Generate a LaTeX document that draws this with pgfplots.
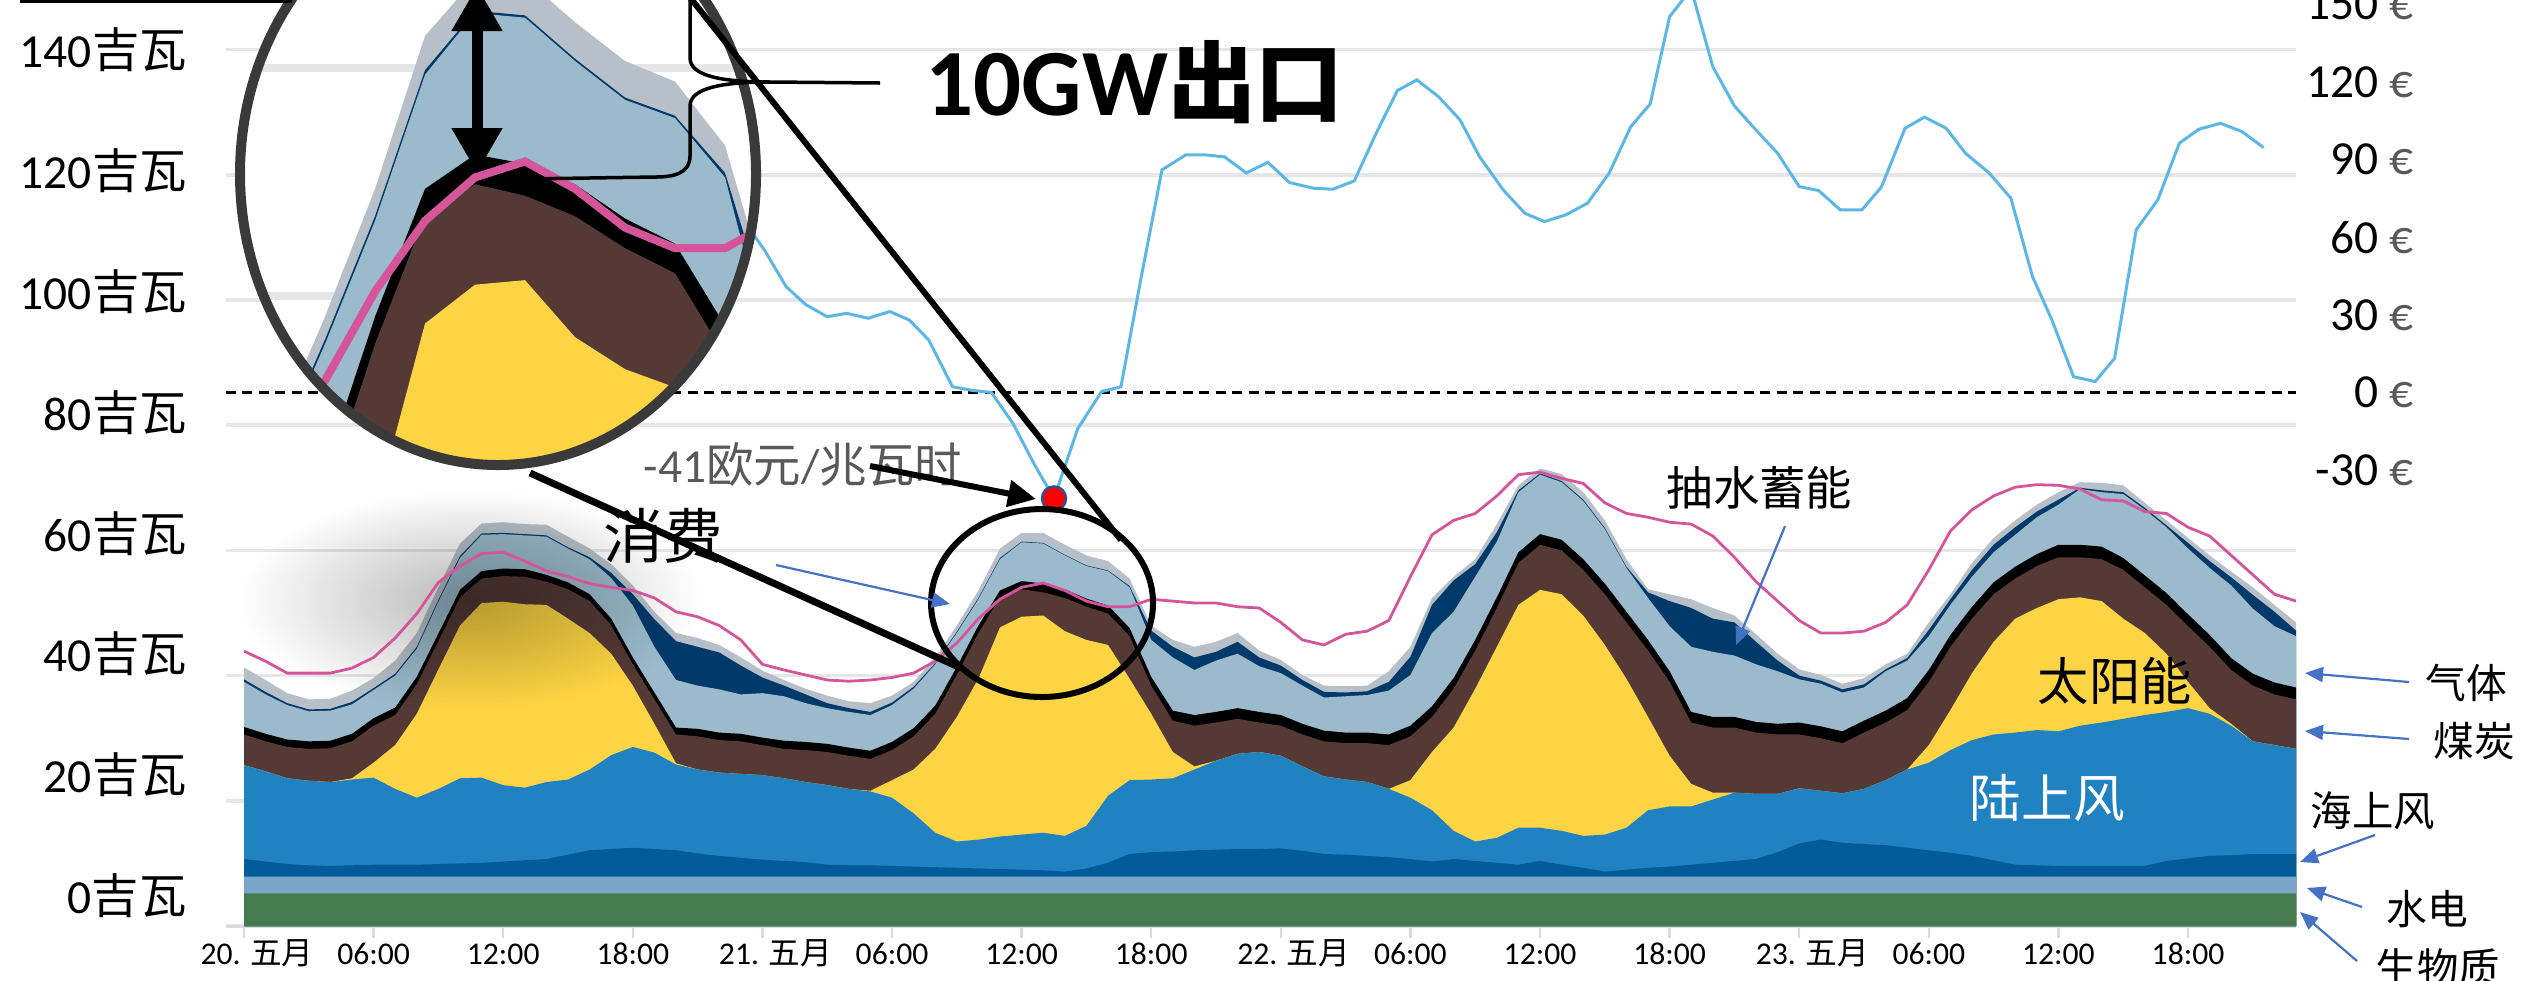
\documentclass[border=0pt]{standalone}
\usepackage{fontspec}
\setmainfont{Carlito}
\newfontfamily\cjk{Noto Sans CJK SC}
\usepackage{pgfplots}
\pgfplotsset{compat=1.18}
\usepackage{pgfplotstable}
\usetikzlibrary{arrows.meta,fadings}

\definecolor{cBio}{HTML}{477A4E}
\definecolor{cHyd}{HTML}{7AA6CA}
\definecolor{cOff}{HTML}{005C98}
\definecolor{cOn}{HTML}{2182C2}
\definecolor{cSol}{HTML}{FDD544}
\definecolor{cCoal}{HTML}{543935}
\definecolor{cGas}{HTML}{9BBBCC}
\definecolor{cPump}{HTML}{003A6B}
\definecolor{cOth}{HTML}{B7C0C8}
\definecolor{cCons}{HTML}{D5559B}
\definecolor{cPrice}{HTML}{5DB7E6}
\definecolor{cArrow}{HTML}{4472C4}
\definecolor{cGrid}{HTML}{E6E6E6}
\definecolor{cAxis}{HTML}{D6DCE6}
\definecolor{cTxt}{HTML}{595959}
\definecolor{cRing}{HTML}{3A3A3A}
\definecolor{cDot}{HTML}{2F4F8F}

\newcommand\fs[1]{\fontsize{#1}{#1}\selectfont}
\newcommand\wy{{\cjk 五月}}
\tikzfading[name=glow, inner color=transparent!72, outer color=transparent!100]

\pgfplotstableread{
h bio hyd ofw onw sol coal blk gas pump tot cons
0 5.2 7.9 10.7 25.7 25.7 30.6 31.8 39.0 39.4 41.3 43.9
1 5.2 7.9 10.3 24.7 24.7 29.5 30.7 37.0 37.4 39.3 42.3
2 5.2 7.9 9.9 23.6 23.6 28.6 29.8 35.3 35.6 37.2 40.4
3 5.2 7.9 9.7 23.2 23.2 28.3 29.5 34.3 34.6 36.2 40.4
4 5.2 7.9 9.6 23.0 23.0 28.4 29.6 34.4 34.7 36.3 40.4
5 5.2 7.9 9.7 23.4 23.6 29.5 30.7 35.4 35.8 37.6 41.2
6 5.2 7.9 9.8 23.7 26.1 32.0 33.2 37.7 38.0 39.6 42.9
7 5.2 7.9 9.8 21.9 28.9 33.7 34.9 40.0 40.3 42.4 46.0
8 5.2 7.9 9.8 20.5 33.9 38.6 39.8 44.3 44.6 46.8 49.9
9 5.2 7.9 9.9 21.9 41.0 45.5 46.7 51.8 52.1 54.1 54.9
10 5.2 7.9 10.0 23.6 48.0 52.5 53.7 58.8 59.1 61.1 57.5
11 5.2 7.9 10.1 23.7 51.6 55.5 56.7 62.5 62.7 64.3 59.5
12 5.2 7.9 10.3 22.5 51.8 55.9 57.1 62.6 62.8 64.5 59.7
13 5.2 7.9 10.5 22.1 51.4 55.8 57.0 62.4 62.6 64.2 58.3
14 5.2 7.9 10.7 23.0 51.3 55.0 56.1 62.2 62.4 64.1 56.7
15 5.2 7.9 11.4 23.4 49.1 53.8 54.9 60.3 60.5 62.2 55.8
16 5.2 7.9 12.1 25.0 46.8 51.9 53.0 58.6 58.9 60.3 54.7
17 5.2 7.9 12.3 27.3 43.5 48.0 49.1 55.6 56.4 57.8 54.1
18 5.2 7.9 12.5 28.6 38.4 41.8 42.9 51.2 53.0 54.4 53.6
19 5.2 7.9 12.3 27.7 32.3 36.2 37.3 44.6 49.0 50.2 52.4
20 5.2 7.9 12.1 25.8 26.0 30.6 31.7 39.3 45.5 46.8 50.2
21 5.2 7.9 11.6 25.0 25.0 30.3 31.5 38.4 44.6 46.0 49.4
22 5.2 7.9 11.2 24.5 24.5 29.7 30.9 37.8 43.7 44.9 48.0
23 5.2 7.9 10.9 24.3 24.3 29.5 30.7 37.0 41.6 42.9 45.7
24 5.2 7.9 10.6 24.1 24.1 28.9 30.1 37.2 39.7 40.8 41.8
25 5.2 7.9 10.4 23.6 23.6 28.3 29.6 36.7 38.4 39.3 40.9
26 5.2 7.9 10.2 23.0 23.0 28.1 29.4 35.6 37.0 37.9 40.1
27 5.2 7.9 9.8 22.5 22.5 27.8 29.1 34.8 35.6 36.8 39.3
28 5.2 7.9 9.7 21.9 21.9 27.2 28.5 34.2 34.8 35.9 39.1
29 5.2 7.9 9.7 21.5 21.6 26.7 28.0 33.7 34.2 35.6 39.3
30 5.2 7.9 9.6 20.5 23.3 28.1 29.4 35.3 35.7 36.8 39.7
31 5.2 7.9 9.5 18.0 25.0 30.3 31.6 37.9 38.2 39.0 40.4
32 5.2 7.9 9.4 14.9 28.3 33.9 35.2 41.8 42.0 42.9 42.3
33 5.2 7.9 9.3 13.5 33.4 40.1 41.4 46.8 47.0 48.0 45.2
34 5.2 7.9 9.2 13.8 39.5 46.8 48.0 52.2 52.4 53.6 49.1
35 5.2 7.9 9.1 14.3 47.7 52.4 53.6 58.6 58.8 60.3 52.2
36 5.2 7.9 9.0 14.6 49.4 53.8 55.1 61.3 61.4 62.8 54.1
37 5.2 7.9 8.9 14.9 49.6 53.3 54.7 61.1 61.2 62.8 54.8
38 5.2 7.9 8.7 14.4 47.1 52.4 53.8 59.2 59.3 60.9 53.6
39 5.2 7.9 9.2 16.0 45.7 51.0 52.3 57.5 57.6 59.2 51.9
40 5.2 7.9 10.1 20.8 44.9 49.9 51.2 56.7 56.8 58.3 51.0
41 5.2 7.9 11.5 23.3 39.5 46.3 47.6 54.1 54.3 55.5 51.0
42 5.2 7.9 11.8 23.4 33.9 38.4 39.8 45.7 47.2 48.0 52.2
43 5.2 7.9 11.9 23.6 27.8 32.8 34.4 42.9 44.6 45.7 51.9
44 5.2 7.9 12.1 25.0 25.5 32.0 33.7 40.9 42.9 44.6 51.6
45 5.2 7.9 12.2 26.4 26.4 32.5 34.2 42.4 43.8 45.4 51.6
46 5.2 7.9 12.3 27.5 27.5 33.1 34.8 43.5 45.4 46.8 51.0
47 5.2 7.9 12.3 27.8 27.8 32.5 34.2 41.5 42.9 44.0 50.8
48 5.2 7.9 12.4 27.2 27.2 32.0 33.7 40.4 41.6 42.5 48.5
49 5.2 7.9 12.0 25.5 25.5 30.6 32.3 38.4 39.3 40.1 45.7
50 5.2 7.9 11.5 23.9 23.9 29.5 31.2 36.5 37.4 38.4 44.9
51 5.2 7.9 11.4 23.4 23.4 29.2 30.9 36.7 37.3 38.3 46.6
52 5.2 7.9 11.2 23.0 23.0 29.2 30.9 36.9 37.5 38.4 47.1
53 5.2 7.9 11.0 21.9 21.9 28.9 30.6 37.6 39.0 40.7 48.8
54 5.2 7.9 10.7 20.5 23.3 30.3 32.0 40.1 43.0 44.6 55.8
55 5.2 7.9 10.3 18.5 27.8 33.4 35.1 46.8 51.3 52.4 62.5
56 5.2 7.9 10.7 15.2 31.7 37.9 39.6 50.2 55.2 55.8 64.8
57 5.2 7.9 10.4 13.5 37.9 44.0 45.7 55.8 57.8 58.6 65.9
58 5.2 7.9 10.1 14.1 44.6 50.8 52.5 61.4 62.9 64.2 68.7
59 5.2 7.9 9.8 15.7 51.3 58.0 59.7 69.3 69.6 70.4 72.1
60 5.2 7.9 10.4 15.7 53.7 60.9 62.6 72.1 72.3 73.1 72.5
61 5.2 7.9 9.8 15.2 53.0 60.0 61.7 70.9 71.1 72.2 71.5
62 5.2 7.9 9.3 14.4 49.6 56.9 58.6 67.9 68.1 69.3 70.7
63 5.2 7.9 8.7 14.6 44.9 53.0 54.7 63.4 63.6 64.8 67.6
64 5.2 7.9 9.0 15.7 39.5 48.5 50.2 57.2 57.4 58.6 65.9
65 5.2 7.9 9.3 18.5 33.4 44.0 45.7 52.4 53.3 53.8 65.3
66 5.2 7.9 9.5 19.1 27.2 39.0 40.7 47.9 51.9 53.0 64.5
67 5.2 7.9 9.8 19.1 22.7 32.5 34.2 44.6 50.8 52.2 64.2
68 5.2 7.9 10.1 20.2 21.3 31.7 33.4 43.8 49.1 50.8 62.3
69 5.2 7.9 10.4 21.3 21.3 31.7 33.4 43.2 48.5 49.6 58.9
70 5.2 7.9 10.7 21.1 21.1 30.9 32.6 41.8 45.4 46.6 55.0
71 5.2 7.9 11.8 21.1 21.1 30.6 32.3 40.7 42.4 43.5 51.9
72 5.2 7.9 13.2 22.0 22.0 30.6 32.5 39.4 40.0 41.0 48.8
73 5.2 7.9 13.8 21.6 21.6 30.0 31.9 38.7 39.2 40.1 46.8
74 5.2 7.9 13.3 21.2 21.2 29.2 31.1 37.3 37.8 38.7 46.8
75 5.2 7.9 13.1 21.9 21.9 30.9 32.8 38.1 38.6 39.6 47.1
76 5.2 7.9 12.9 23.3 23.3 32.5 34.4 40.7 41.0 41.8 48.5
77 5.2 7.9 12.5 25.0 25.0 34.5 36.4 42.4 42.8 43.5 51.3
78 5.2 7.9 12.1 26.1 28.9 39.0 40.9 46.3 47.3 48.5 56.9
79 5.2 7.9 11.7 28.1 34.5 44.6 46.5 51.3 52.2 53.0 63.1
80 5.2 7.9 11.2 29.7 40.4 49.1 51.0 55.8 56.9 58.0 66.5
81 5.2 7.9 10.5 30.6 45.4 53.0 54.9 59.7 60.9 62.0 68.7
82 5.2 7.9 9.8 30.9 49.1 55.5 57.4 62.5 63.7 64.8 70.1
83 5.2 7.9 9.7 31.3 50.8 57.5 59.4 65.3 66.2 67.3 70.5
84 5.2 7.9 9.6 31.1 52.2 58.9 60.9 67.3 68.1 69.3 70.4
85 5.2 7.9 9.6 32.0 52.5 58.9 60.9 69.8 70.0 70.9 69.8
86 5.2 7.9 9.6 32.5 51.9 58.6 60.6 69.3 69.6 70.8 68.1
87 5.2 7.9 9.6 33.1 49.1 56.9 58.8 69.0 69.3 70.4 67.9
88 5.2 7.9 9.6 33.7 46.8 54.1 56.0 66.5 66.8 67.6 66.2
89 5.2 7.9 10.4 34.2 43.5 51.3 53.2 63.7 64.0 64.8 65.9
90 5.2 7.9 10.8 34.8 39.0 47.9 49.8 60.3 61.2 62.0 63.7
91 5.2 7.9 11.2 33.9 34.8 44.6 46.5 57.2 58.3 59.2 62.3
92 5.2 7.9 11.3 32.0 32.3 40.9 42.8 54.4 55.7 56.6 59.2
93 5.2 7.9 11.5 29.5 29.5 38.4 40.3 50.7 52.9 54.1 56.1
94 5.2 7.9 11.5 28.9 28.9 37.0 38.9 47.9 50.2 51.3 53.0
95 5.2 7.9 11.5 28.3 28.3 36.2 38.1 46.3 47.2 48.5 51.9
}\gen

\pgfplotstableread{
h p
22.0 75
23.0 68
24.1 55
25.1 40.9
26.0 34.0
27.0 29.3
27.9 30.6
28.9 28.7
29.9 31.3
30.8 28.0
31.7 20.3
32.8 2.2
33.7 0.8
34.6 0.0
35.6 -12
36.6 -28
37.5 -41
38.6 -14
39.7 0.3
40.6 2.2
41.5 43
42.5 86.1
43.6 91.9
44.5 91.9
45.4 91.1
46.4 84.9
47.4 89.0
48.4 81.2
49.5 79.0
50.4 78.6
51.4 81.8
52.4 100
53.4 116.8
54.3 120.9
55.3 114.4
56.3 105.4
57.2 91.2
58.3 78.3
59.3 69.3
60.2 66.1
61.2 68.7
62.2 73.2
63.2 84.8
64.2 102.8
65.1 111.6
66.0 145.4
67.0 156
68.0 126
69.0 110.8
70.0 101.5
71.0 92.5
72.0 79.6
72.9 78.1
73.9 70.6
74.9 70.6
75.8 79.4
76.9 102.2
77.8 106.5
78.8 102.2
79.7 92.5
80.8 84.8
81.8 75.1
82.8 44.8
83.7 28.0
84.7 6.1
85.7 4.2
86.6 13.2
87.6 62.9
88.6 74.5
89.6 96.4
90.5 101.8
91.5 104.1
92.5 100.9
93.5 94.7
}\price

\begin{document}
\begin{tikzpicture}
\path[use as bounding box] (0mm,0mm) rectangle (252.1mm,98mm);
\clip (0mm,0mm) rectangle (252.1mm,98mm);
\pgfplotsset{
  every axis/.append style={/pgf/number format/assume math mode=true},
  base/.style={scale only axis, width=207.04mm, height=92.6mm,
    at={(22.56mm,5.4mm)}, anchor=south west, xmin=-0.852, xmax=95},
}
% ---------- stacked areas ----------
\begin{axis}[base, ymin=0, ymax=147.92,
  axis x line*=bottom, axis y line*=left,
  y axis line style={draw=none}, x axis line style={cAxis, line width=0.3mm},
  xtick={0,6,...,90},
  xticklabels={{\hspace*{2.6mm}20. \wy},06:00,12:00,18:00,{\hspace*{2.6mm}21. \wy},06:00,12:00,18:00,{\hspace*{2.6mm}22. \wy},06:00,12:00,18:00,{\hspace*{2.6mm}23. \wy},06:00,12:00,18:00},
  xtick style={cAxis, line width=0.25mm}, tick align=outside, major tick length=1.2mm,
  xticklabel style={font=\fs{9}, inner sep=0pt, anchor=base, yshift=-2.6mm},
  ytick={0,20,...,140}, ytick style={draw=none},
  yticklabel={\pgfmathprintnumber{\tick}{\cjk 吉瓦}},
  yticklabel style={font=\fs{13.5}, inner sep=0pt, anchor=east, xshift=-2.6mm, yshift={(7-\ticknum)*0.43mm}},
  ymajorgrids, grid style={cGrid, line width=0.35mm},
]
\addplot[fill=cOth, draw=none] table[x=h,y=tot]{\gen} \closedcycle;
\addplot[fill=cPump, draw=none] table[x=h,y=pump]{\gen} \closedcycle;
\addplot[fill=cGas, draw=none] table[x=h,y=gas]{\gen} \closedcycle;
\addplot[fill=black, draw=none] table[x=h,y=blk]{\gen} \closedcycle;
\addplot[fill=cCoal, draw=none] table[x=h,y=coal]{\gen} \closedcycle;
\addplot[fill=cSol, draw=none] table[x=h,y=sol]{\gen} \closedcycle;
\addplot[fill=cOn, draw=none] table[x=h,y=onw]{\gen} \closedcycle;
\addplot[fill=cOff, draw=none] table[x=h,y=ofw]{\gen} \closedcycle;
\addplot[fill=cHyd, draw=none] table[x=h,y=hyd]{\gen} \closedcycle;
\addplot[fill=cBio, draw=none] table[x=h,y=bio]{\gen} \closedcycle;
\end{axis}
% soft shadow
\begin{scope}[x=0.1mm, y=-0.1mm, shift={(0mm,98mm)}]
\fill[black, path fading=glow] (470,600) ellipse [x radius=230, y radius=110];
\end{scope}
% ---------- consumption ----------
\begin{axis}[base, ymin=0, ymax=147.92, hide axis]
\addplot[cCons, line width=0.28mm] table[x=h,y=cons]{\gen};
\end{axis}
% ---------- price ----------
\begin{axis}[base, ymin=-206.4, ymax=151.8, hide x axis, axis y line*=right,
  y axis line style={draw=none}, ytick={-30,0,...,150}, ytick style={draw=none},
  yticklabel={\pgfmathprintnumber{\tick}~\textcolor{cTxt}{€}},
  yticklabel style={font=\fs{13.5}, inner sep=0pt, anchor=east, xshift=11.8mm}]
\addplot[black, line width=0.25mm, dash pattern=on 1mm off 0.65mm] coordinates {(-0.852,0) (95,0)};
\addplot[cPrice, line width=0.3mm] table[x=h,y=p]{\price};
\addplot[only marks, mark=*, mark size=1.2mm, mark options={fill=red, draw=cDot, line width=0.25mm}] coordinates {(37.5,-41)};
\end{axis}
% ---------- magnifier ----------
\begin{scope}
\clip (49.8mm,80.6mm) ellipse [x radius=25.8mm, y radius=29.1mm];
\fill[white] (23mm,50mm) rectangle (77mm,111mm);
\begin{axis}[scale only axis, width=51.6mm, height=58.2mm, at={(24mm,51.5mm)}, anchor=south west,
  xmin=31.3, xmax=41.62, ymin=41.5, ymax=67.0, hide axis]
\addplot[cGrid, line width=0.8mm] coordinates {(30,58.9) (43,58.9)};
\addplot[cGrid, line width=0.8mm] coordinates {(30,48.9) (43,48.9)};
\addplot[fill=cOth, draw=none] table[x=h,y=tot]{\gen} \closedcycle;
\addplot[fill=cPump, draw=none] table[x=h,y=pump]{\gen} \closedcycle;
\addplot[fill=cGas, draw=none] table[x=h,y=gas]{\gen} \closedcycle;
\addplot[fill=black, draw=none] table[x=h,y=blk]{\gen} \closedcycle;
\addplot[fill=cCoal, draw=none] table[x=h,y=coal]{\gen} \closedcycle;
\addplot[fill=cSol, draw=none] table[x=h,y=sol]{\gen} \closedcycle;
\addplot[fill=cOn, draw=none] table[x=h,y=onw]{\gen} \closedcycle;
\addplot[cCons, line width=0.8mm] table[x=h,y=cons]{\gen};
\end{axis}
\end{scope}
% ---------- annotations (image pixel coordinates, y downward) ----------
\begin{scope}[x=0.1mm, y=-0.1mm, shift={(0mm,98mm)}]
\draw[cRing, line width=1mm] (498,174) ellipse [x radius=258, y radius=291];
\draw[line width=1.1mm, {Triangle[length=4.5mm,width=4.8mm]}-{Triangle[length=4.5mm,width=4.8mm]}] (477,-14) -- (477,173);
\draw[line width=0.35mm] (690,-30) -- (690,58) .. controls (690,76) and (722,82) .. (770,82) -- (880,83);
\draw[line width=0.35mm] (770,82) .. controls (722,82) and (690,88) .. (690,106) -- (690,156) .. controls (690,172) and (676,177) .. (656,177) -- (522,179);
\draw[line width=0.6mm] (20,0) -- (292,0);
\draw[line width=0.6mm] (688,-5) -- (1121,540);
\draw[line width=0.7mm] (530,473) -- (961,668);
\draw[line width=0.6mm] (1042,603) ellipse [x radius=111, y radius=94];
\node[anchor=base west, inner sep=0] at (925,115) {\fs{27}\bfseries 10GW{\cjk\fs{25}\bfseries 出口}};
\node[anchor=base west, inner sep=0] at (603,558) {\cjk\fs{17}消费};
\node[anchor=base west, inner sep=0, text=cTxt] at (643,482) {\fs{13.5}-41{\cjk 欧元}/{\cjk 兆瓦时}};
\node[anchor=base west, inner sep=0] at (1666,505) {\cjk\fs{13.2}抽水蓄能};
\node[anchor=base west, inner sep=0] at (2037,700) {\cjk\fs{14.6}太阳能};
\node[anchor=base west, inner sep=0, text=white] at (1969,817) {\cjk\fs{14.7}陆上风};
\node[anchor=base west, inner sep=0] at (2425,698) {\cjk\fs{11.6}气体};
\node[anchor=base west, inner sep=0] at (2433,756) {\cjk\fs{11.6}煤炭};
\node[anchor=base west, inner sep=0] at (2310,826) {\cjk\fs{11.8}海上风};
\node[anchor=base west, inner sep=0] at (2386,924) {\cjk\fs{11.6}水电};
\node[anchor=base west, inner sep=0] at (2375,983) {\cjk\fs{11.8}生物质};
\draw[line width=0.6mm, -{Triangle[length=2.8mm,width=2.6mm]}] (870,466) -- (1036,499);
\begin{scope}[cArrow, line width=0.22mm, -{Triangle[length=1.8mm,width=1.5mm]}]
\draw (776,565) -- (950,604);
\draw (1785,526) -- (1736,645);
\draw (2409,682) -- (2305,673);
\draw (2409,739) -- (2305,731);
\draw (2375,835) -- (2300,862);
\draw (2362,907) -- (2307,888);
\draw (2357,961) -- (2300,912);
\end{scope}
\end{scope}
\end{tikzpicture}
\end{document}
